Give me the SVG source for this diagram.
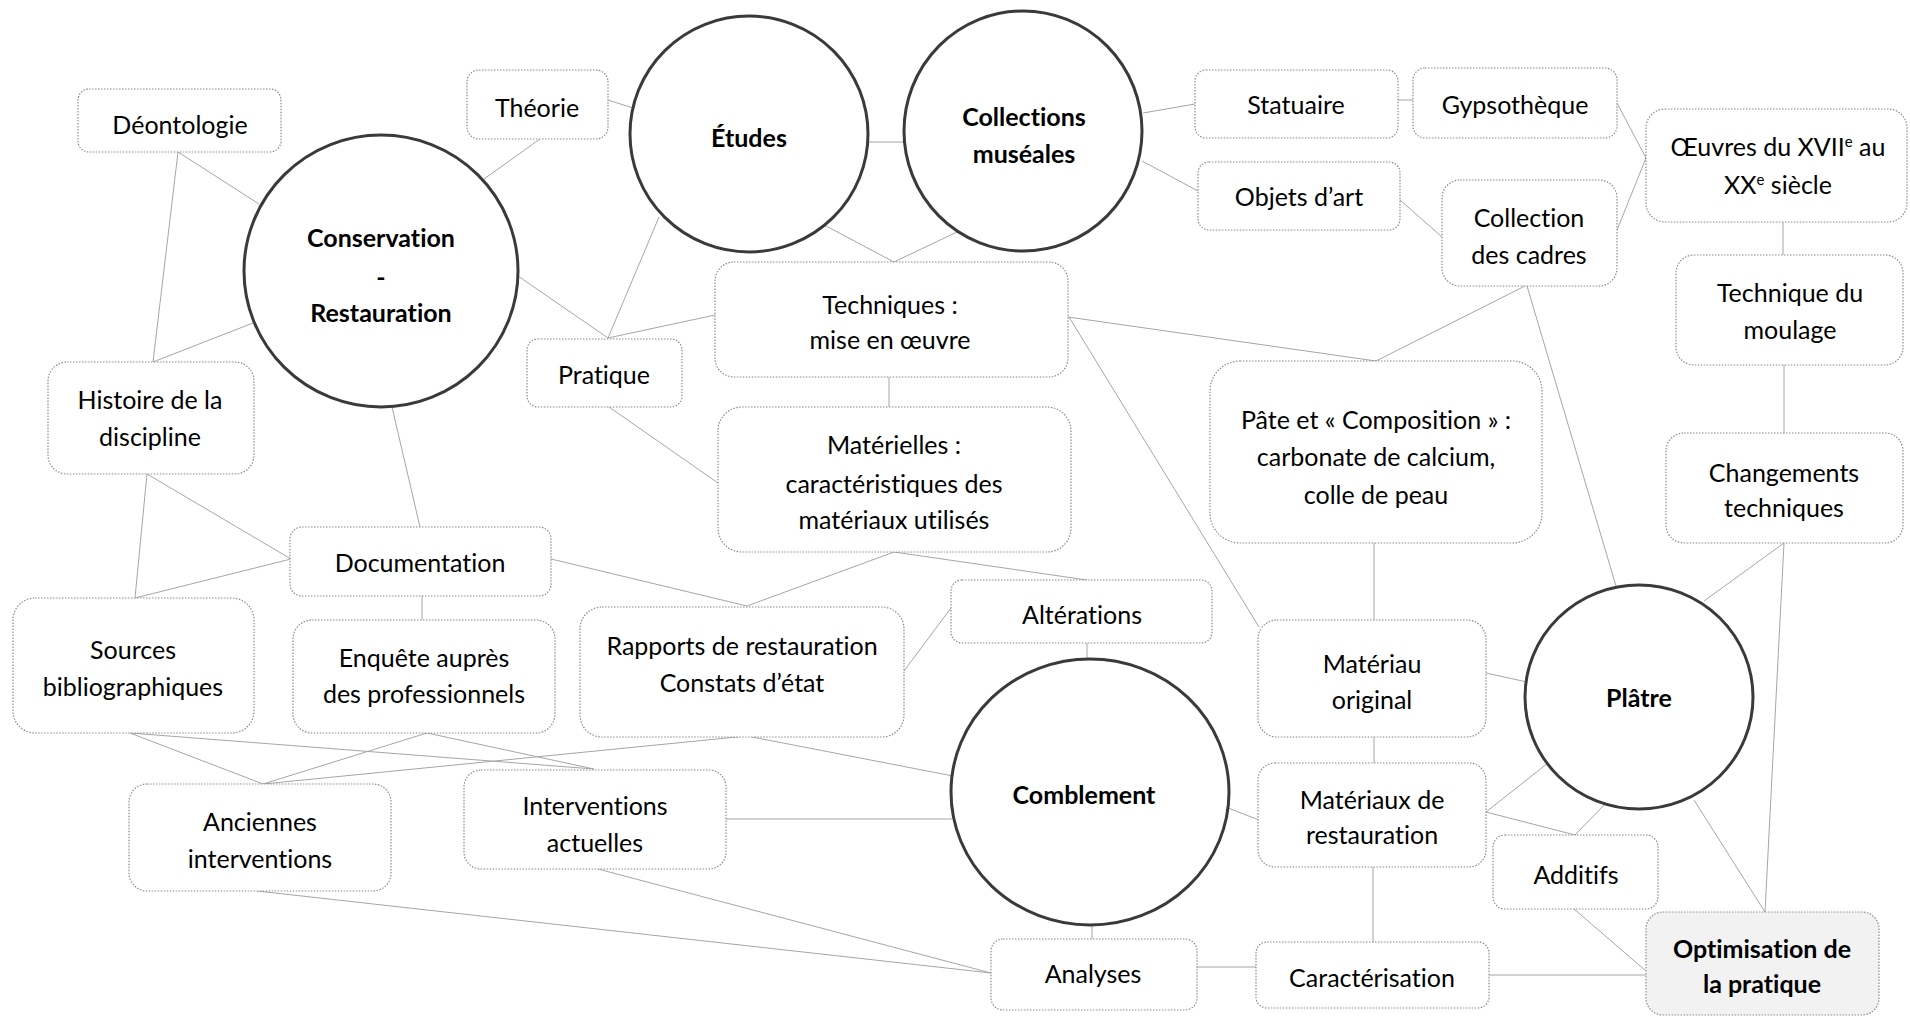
<svg xmlns="http://www.w3.org/2000/svg" width="1910" height="1017" viewBox="0 0 1910 1017">
<style>
.bg{fill:#fff}
.box{fill:#fff;stroke:#8c8c8c;stroke-width:1.2;stroke-dasharray:1.5 1.5}
.opt{fill:#f2f2f2;stroke:#8c8c8c;stroke-width:1.2;stroke-dasharray:1.5 1.5}
.circ{fill:#fff;stroke:#3a3a3a;stroke-width:3}
.t{font-family:Lato,"Noto Sans",sans-serif;font-size:25px;fill:#000;text-anchor:middle;font-variant-ligatures:none;font-feature-settings:"liga" 0,"dlig" 0}
.b{font-weight:bold}
.c line{stroke:#a6a6a6;stroke-width:1}
</style>
<rect class="bg" x="0" y="0" width="1910" height="1017"/>
<g class="c" id="connectors">
<line x1="178" y1="152" x2="259" y2="204"/>
<line x1="178" y1="152" x2="153" y2="362"/>
<line x1="153" y1="362" x2="253" y2="323"/>
<line x1="540" y1="139" x2="484" y2="179"/>
<line x1="608" y1="100" x2="633" y2="108"/>
<line x1="518" y1="276" x2="608" y2="338"/>
<line x1="659" y1="217" x2="608" y2="338"/>
<line x1="715" y1="315" x2="608" y2="338"/>
<line x1="868" y1="142" x2="904" y2="142"/>
<line x1="826" y1="226" x2="894" y2="262"/>
<line x1="957" y1="232" x2="894" y2="262"/>
<line x1="889" y1="377" x2="889" y2="407"/>
<line x1="1068" y1="317" x2="1376" y2="361"/>
<line x1="1069" y1="317" x2="1259" y2="627"/>
<line x1="1143" y1="113" x2="1195" y2="104"/>
<line x1="1142" y1="161" x2="1198" y2="191"/>
<line x1="1398" y1="100" x2="1413" y2="100"/>
<line x1="1400" y1="200" x2="1442" y2="237"/>
<line x1="1617" y1="103" x2="1646" y2="158"/>
<line x1="1617" y1="230" x2="1646" y2="158"/>
<line x1="1783" y1="222" x2="1783" y2="255"/>
<line x1="1525" y1="286" x2="1376" y2="361"/>
<line x1="1527" y1="286" x2="1616" y2="586"/>
<line x1="1784" y1="365" x2="1784" y2="433"/>
<line x1="392" y1="407" x2="420" y2="527"/>
<line x1="147" y1="474" x2="135" y2="598"/>
<line x1="147" y1="474" x2="291" y2="559"/>
<line x1="135" y1="598" x2="291" y2="559"/>
<line x1="422" y1="596" x2="422" y2="620"/>
<line x1="551" y1="559" x2="747" y2="606"/>
<line x1="609" y1="407" x2="718" y2="483"/>
<line x1="894" y1="552" x2="747" y2="606"/>
<line x1="894" y1="552" x2="1087" y2="580"/>
<line x1="904" y1="671" x2="951" y2="608"/>
<line x1="1087" y1="643" x2="1087" y2="658"/>
<line x1="747" y1="736" x2="953" y2="776"/>
<line x1="263" y1="784" x2="747" y2="736"/>
<line x1="130" y1="733" x2="263" y2="784"/>
<line x1="427" y1="733" x2="263" y2="784"/>
<line x1="130" y1="733" x2="594" y2="769"/>
<line x1="427" y1="733" x2="594" y2="769"/>
<line x1="726" y1="819" x2="952" y2="819"/>
<line x1="598" y1="869" x2="991" y2="973"/>
<line x1="257" y1="891" x2="991" y2="973"/>
<line x1="1092" y1="925" x2="1092" y2="939"/>
<line x1="1197" y1="967" x2="1256" y2="967"/>
<line x1="1228" y1="808" x2="1259" y2="820"/>
<line x1="1374" y1="543" x2="1374" y2="620"/>
<line x1="1486" y1="673" x2="1527" y2="682"/>
<line x1="1374" y1="737" x2="1374" y2="763"/>
<line x1="1486" y1="812" x2="1548" y2="763"/>
<line x1="1486" y1="812" x2="1575" y2="835"/>
<line x1="1575" y1="835" x2="1607" y2="802"/>
<line x1="1574" y1="909" x2="1646" y2="971"/>
<line x1="1373" y1="867" x2="1373" y2="942"/>
<line x1="1489" y1="975" x2="1646" y2="975"/>
<line x1="1784" y1="543" x2="1704" y2="601"/>
<line x1="1784" y1="543" x2="1765" y2="912"/>
<line x1="1694" y1="800" x2="1765" y2="912"/>
</g>
<g id="deontologie"><rect class="box" x="78" y="89" width="203" height="63" rx="11"/><text class="t" x="180" y="134">Déontologie</text></g>
<g id="theorie"><rect class="box" x="467" y="70" width="141" height="69" rx="12"/><text class="t" x="537" y="117">Théorie</text></g>
<g id="conservation"><ellipse class="circ" cx="381" cy="271" rx="137" ry="136"/><text class="t b" x="381" y="247">Conservation</text><text class="t b" x="381" y="286">-</text><text class="t b" x="381" y="322">Restauration</text></g>
<g id="etudes"><ellipse class="circ" cx="749" cy="134" rx="119" ry="118"/><text class="t b" x="749" y="147">Études</text></g>
<g id="collections"><ellipse class="circ" cx="1023" cy="131" rx="119" ry="120"/><text class="t b" x="1024" y="126">Collections</text><text class="t b" x="1024" y="163">muséales</text></g>
<g id="histoire"><rect class="box" x="48" y="362" width="206" height="112" rx="19"/><text class="t" x="150" y="409">Histoire de la</text><text class="t" x="150" y="446">discipline</text></g>
<g id="pratique"><rect class="box" x="527" y="339" width="155" height="68" rx="11"/><text class="t" x="604" y="384">Pratique</text></g>
<g id="techniques"><rect class="box" x="715" y="262" width="353" height="115" rx="19"/><text class="t" x="890" y="314">Techniques :</text><text class="t" x="890" y="349">mise en œuvre</text></g>
<g id="materielles"><rect class="box" x="718" y="407" width="353" height="145" rx="24"/><text class="t" x="894" y="454">Matérielles :</text><text class="t" x="894" y="493">caractéristiques des</text><text class="t" x="894" y="529">matériaux utilisés</text></g>
<g id="statuaire"><rect class="box" x="1195" y="70" width="203" height="68" rx="11"/><text class="t" x="1296" y="114">Statuaire</text></g>
<g id="gypsotheque"><rect class="box" x="1413" y="68" width="204" height="70" rx="12"/><text class="t" x="1515" y="114">Gypsothèque</text></g>
<g id="objets"><rect class="box" x="1198" y="162" width="202" height="68" rx="11"/><text class="t" x="1299" y="206">Objets d’art</text></g>
<g id="cadres"><rect class="box" x="1442" y="180" width="175" height="106" rx="18"/><text class="t" x="1529" y="227">Collection</text><text class="t" x="1529" y="264">des cadres</text></g>
<g id="oeuvres"><rect class="box" x="1646" y="109" width="261" height="113" rx="19"/><text class="t" x="1778" y="156">Œuvres du XVII<tspan font-size="15" dy="-9">e</tspan><tspan dy="9"> au</tspan></text><text class="t" x="1778" y="194">XX<tspan font-size="15" dy="-9">e</tspan><tspan dy="9"> siècle</tspan></text></g>
<g id="moulage"><rect class="box" x="1676" y="255" width="227" height="110" rx="18"/><text class="t" x="1790" y="302">Technique du</text><text class="t" x="1790" y="339">moulage</text></g>
<g id="pate"><rect class="box" x="1210" y="361" width="332" height="182" rx="30"/><text class="t" x="1376" y="429">Pâte et « Composition » :</text><text class="t" x="1376" y="466">carbonate de calcium,</text><text class="t" x="1376" y="504">colle de peau</text></g>
<g id="changements"><rect class="box" x="1666" y="433" width="237" height="110" rx="18"/><text class="t" x="1784" y="482">Changements</text><text class="t" x="1784" y="517">techniques</text></g>
<g id="documentation"><rect class="box" x="290" y="527" width="261" height="69" rx="12"/><text class="t" x="420" y="572">Documentation</text></g>
<g id="sources"><rect class="box" x="13" y="598" width="241" height="135" rx="22"/><text class="t" x="133" y="659">Sources</text><text class="t" x="133" y="696">bibliographiques</text></g>
<g id="enquete"><rect class="box" x="293" y="620" width="262" height="113" rx="19"/><text class="t" x="424" y="667">Enquête auprès</text><text class="t" x="424" y="703">des professionnels</text></g>
<g id="rapports"><rect class="box" x="580" y="607" width="324" height="130" rx="22"/><text class="t" x="742" y="655">Rapports de restauration</text><text class="t" x="742" y="692">Constats d’état</text></g>
<g id="alterations"><rect class="box" x="951" y="580" width="261" height="63" rx="11"/><text class="t" x="1082" y="624">Altérations</text></g>
<g id="comblement"><ellipse class="circ" cx="1090" cy="792" rx="139" ry="133"/><text class="t b" x="1084" y="804">Comblement</text></g>
<g id="materiau-original"><rect class="box" x="1258" y="620" width="228" height="117" rx="19"/><text class="t" x="1372" y="673">Matériau</text><text class="t" x="1372" y="709">original</text></g>
<g id="platre"><ellipse class="circ" cx="1639" cy="697" rx="114" ry="112"/><text class="t b" x="1639" y="707">Plâtre</text></g>
<g id="anciennes"><rect class="box" x="129" y="784" width="262" height="107" rx="18"/><text class="t" x="260" y="831">Anciennes</text><text class="t" x="260" y="868">interventions</text></g>
<g id="actuelles"><rect class="box" x="464" y="770" width="262" height="99" rx="17"/><text class="t" x="595" y="815">Interventions</text><text class="t" x="595" y="852">actuelles</text></g>
<g id="materiaux-restauration"><rect class="box" x="1258" y="763" width="228" height="104" rx="17"/><text class="t" x="1372" y="809">Matériaux de</text><text class="t" x="1372" y="844">restauration</text></g>
<g id="additifs"><rect class="box" x="1493" y="835" width="165" height="74" rx="12"/><text class="t" x="1576" y="884">Additifs</text></g>
<g id="analyses"><rect class="box" x="991" y="939" width="206" height="71" rx="12"/><text class="t" x="1093" y="983">Analyses</text></g>
<g id="caracterisation"><rect class="box" x="1256" y="942" width="233" height="66" rx="11"/><text class="t" x="1372" y="987">Caractérisation</text></g>
<g id="optimisation"><rect class="opt" x="1646" y="912" width="233" height="103" rx="17"/><text class="t b" x="1762" y="958">Optimisation de</text><text class="t b" x="1762" y="993">la pratique</text></g>
</svg>
